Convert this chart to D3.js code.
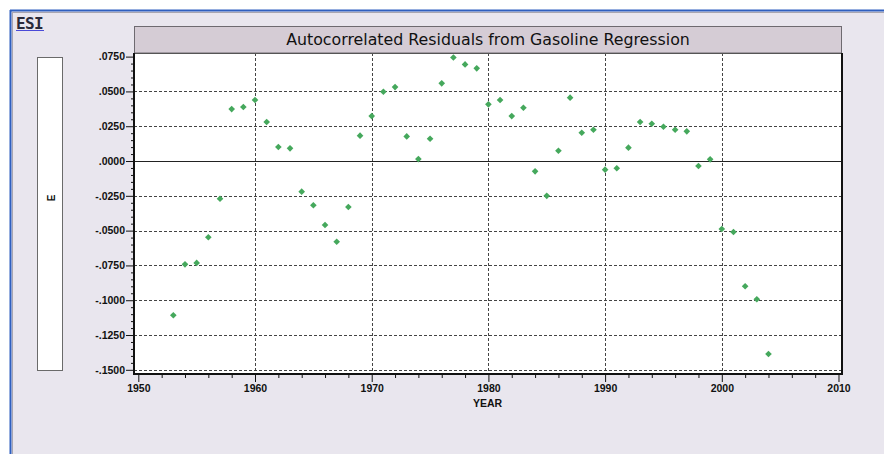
<!DOCTYPE html>
<html><head><meta charset="utf-8">
<script src="https://cdn.jsdelivr.net/npm/d3@7"></script>
<style>
html,body{margin:0;padding:0;background:#fff;}
svg{display:block;}
</style></head>
<body>
<script>
const years = [1953,1954,1955,1956,1957,1958,1959,1960,1961,1962,1963,1964,1965,1966,1967,1968,1969,1970,1971,1972,1973,1974,1975,1976,1977,1978,1979,1980,1981,1982,1983,1984,1985,1986,1987,1988,1989,1990,1991,1992,1993,1994,1995,1996,1997,1998,1999,2000,2001,2002,2003,2004];
const residuals = [-0.1108,-0.0742,-0.0732,-0.0548,-0.0271,0.0373,0.0388,0.0438,0.0280,0.0101,0.0091,-0.0220,-0.0318,-0.0460,-0.0580,-0.0330,0.0182,0.0323,0.0498,0.0531,0.0177,0.0014,0.0160,0.0558,0.0744,0.0694,0.0666,0.0407,0.0438,0.0323,0.0383,-0.0074,-0.0250,0.0074,0.0455,0.0203,0.0225,-0.0062,-0.0052,0.0096,0.0280,0.0268,0.0246,0.0225,0.0213,-0.0036,0.0012,-0.0488,-0.0510,-0.0900,-0.0993,-0.1386];
const xTicks = [1950,1960,1970,1980,1990,2000,2010];
const yTicks = [0.075,0.05,0.025,0,-0.025,-0.05,-0.075,-0.1,-0.125,-0.15];
const yTickLabels = [".0750",".0500",".0250",".0000","-.0250","-.0500","-.0750","-.1000","-.1250","-.1500"];
const title = "Autocorrelated Residuals from Gasoline Regression";
const xLabel = "YEAR";
const yLabel = "E";
const windowLabel = "ESI";

const W = 884, H = 454;
const L = 134, R = 842, T = 53, B = 374;
const svg = d3.select("body").append("svg").attr("width", W).attr("height", H);

// window frame
svg.append("rect").attr("x",0).attr("y",0).attr("width",W).attr("height",H).attr("fill","#ffffff");
svg.append("rect").attr("x",10).attr("y",10).attr("width",W-10).attr("height",H-10).attr("fill","#e9e6ee");
svg.append("line").attr("x1",10).attr("x2",W).attr("y1",10.5).attr("y2",10.5).attr("stroke","#2f5fbf").attr("stroke-width",2);
svg.append("line").attr("x1",10.5).attr("x2",10.5).attr("y1",10).attr("y2",H).attr("stroke","#2f5fbf").attr("stroke-width",2);
svg.append("line").attr("x1",12).attr("x2",W).attr("y1",12.5).attr("y2",12.5).attr("stroke","#a9a6b0").attr("stroke-width",1);
svg.append("line").attr("x1",12.5).attr("x2",12.5).attr("y1",12).attr("y2",H).attr("stroke","#a9a6b0").attr("stroke-width",1);

// ESI label
svg.append("text").attr("x",16).attr("y",29).text(windowLabel)
  .attr("font-family","DejaVu Sans Mono").attr("font-weight","bold").attr("font-size",16)
  .attr("fill","#2a2a3a").attr("letter-spacing",-0.6);
svg.append("line").attr("x1",16).attr("x2",44).attr("y1",30.5).attr("y2",30.5).attr("stroke","#4a4ad8").attr("stroke-width",1);

// E box
svg.append("rect").attr("x",37.5).attr("y",57.5).attr("width",25).attr("height",313)
  .attr("fill","#ffffff").attr("stroke","#6a6a6a").attr("stroke-width",1);
svg.append("text").attr("transform","translate(55,198) rotate(-90)").attr("text-anchor","middle")
  .attr("font-family","Liberation Sans").attr("font-weight","bold").attr("font-size",10).attr("fill","#111").text(yLabel);

// scales
const x = d3.scaleLinear().domain([1949.63, 2010.3]).range([L, R]);
const y = d3.scaleLinear().domain([-0.153, 0.0776]).range([B, T]);

// title box
svg.append("rect").attr("x",L+0.5).attr("y",26.5).attr("width",R-L-1).attr("height",T-26.5)
  .attr("fill","#d5ccd5").attr("stroke","#6e6a70").attr("stroke-width",1);
const tt = svg.append("text").attr("x",(L+R)/2).attr("y",45).attr("text-anchor","middle")
  .attr("font-family","DejaVu Sans").attr("font-size",15).attr("fill","#111").text(title);
const tw = tt.node().getComputedTextLength();
tt.attr("font-size", 15*404/tw);

// plot background
svg.append("rect").attr("x",L).attr("y",T).attr("width",R-L).attr("height",B-T).attr("fill","#ffffff");

// grid
const g = svg.append("g");
g.selectAll(".hg").data(yTicks.filter(d=>d!==0 && d<0.07)).enter().append("line")
  .attr("x1",L).attr("x2",R).attr("y1",d=>Math.round(y(d))+0.5).attr("y2",d=>Math.round(y(d))+0.5)
  .attr("stroke","#444").attr("stroke-width",1).attr("stroke-dasharray","3,2");
g.selectAll(".vg").data(xTicks.filter(d=>d>1950 && d<2010)).enter().append("line")
  .attr("x1",d=>Math.round(x(d))+0.5).attr("x2",d=>Math.round(x(d))+0.5).attr("y1",T).attr("y2",B)
  .attr("stroke","#444").attr("stroke-width",1).attr("stroke-dasharray","3,2");
g.append("line").attr("x1",L).attr("x2",R).attr("y1",Math.round(y(0))+0.5).attr("y2",Math.round(y(0))+0.5)
  .attr("stroke","#222").attr("stroke-width",1);

// top border of plot
svg.append("line").attr("x1",L).attr("x2",R).attr("y1",T+0.5).attr("y2",T+0.5).attr("stroke","#555").attr("stroke-width",1);

// points: small square diamond
const diamond = { draw(ctx, size){ const r = Math.sqrt(size)/2; ctx.moveTo(0,-r); ctx.lineTo(r,0); ctx.lineTo(0,r); ctx.lineTo(-r,0); ctx.closePath(); } };
svg.append("g").selectAll("path").data(years.map((d,i)=>[d,residuals[i]])).enter().append("path")
  .attr("transform",d=>`translate(${x(d[0])},${y(d[1])})`)
  .attr("d", d3.symbol().type(diamond).size(44))
  .attr("fill","#45a85c");

// axes
const tickFont = "Liberation Sans";
const xAxis = d3.axisBottom(x).tickValues(xTicks).tickFormat(d3.format("d")).tickSize(8).tickPadding(3);
const xa = svg.append("g").attr("transform",`translate(0,${B})`).call(xAxis);
const xMinor = d3.axisBottom(x).tickValues(d3.range(1952,2010,2).filter(d=>d%10!==0)).tickFormat("").tickSize(4);
const xm = svg.append("g").attr("transform",`translate(0,${B})`).call(xMinor);
xm.select(".domain").remove();
const yAxis = d3.axisLeft(y).tickValues(yTicks).tickFormat((d,i)=>yTickLabels[i]).tickSize(8).tickPadding(1);
const ya = svg.append("g").attr("transform",`translate(${L},0)`).call(yAxis);
const yMinorVals = d3.range(-150,76,5).filter(d=>d%25!==0).map(d=>d/1000);
const ym = svg.append("g").attr("transform",`translate(${L},0)`).call(d3.axisLeft(y).tickValues(yMinorVals).tickFormat("").tickSize(3));
ym.select(".domain").remove();
[xa,ya].forEach(a=>{
  a.select(".domain").remove();
  a.selectAll("text").attr("font-family",tickFont).attr("font-weight","bold").attr("font-size",10.5).attr("fill","#111");
});
svg.selectAll(".tick line").attr("stroke","#111");
// axis lines
svg.append("line").attr("x1",L).attr("x2",R+1).attr("y1",B).attr("y2",B).attr("stroke","#111").attr("stroke-width",2);
svg.append("line").attr("x1",L).attr("x2",L).attr("y1",T).attr("y2",B+1).attr("stroke","#111").attr("stroke-width",2);
svg.append("line").attr("x1",R).attr("x2",R).attr("y1",T).attr("y2",B+1).attr("stroke","#111").attr("stroke-width",2);

svg.append("text").attr("x",(L+R)/2 - 0.5).attr("y",407).attr("text-anchor","middle")
  .attr("font-family",tickFont).attr("font-weight","bold").attr("font-size",10.5).attr("fill","#111").text(xLabel);
</script>
</body></html>
